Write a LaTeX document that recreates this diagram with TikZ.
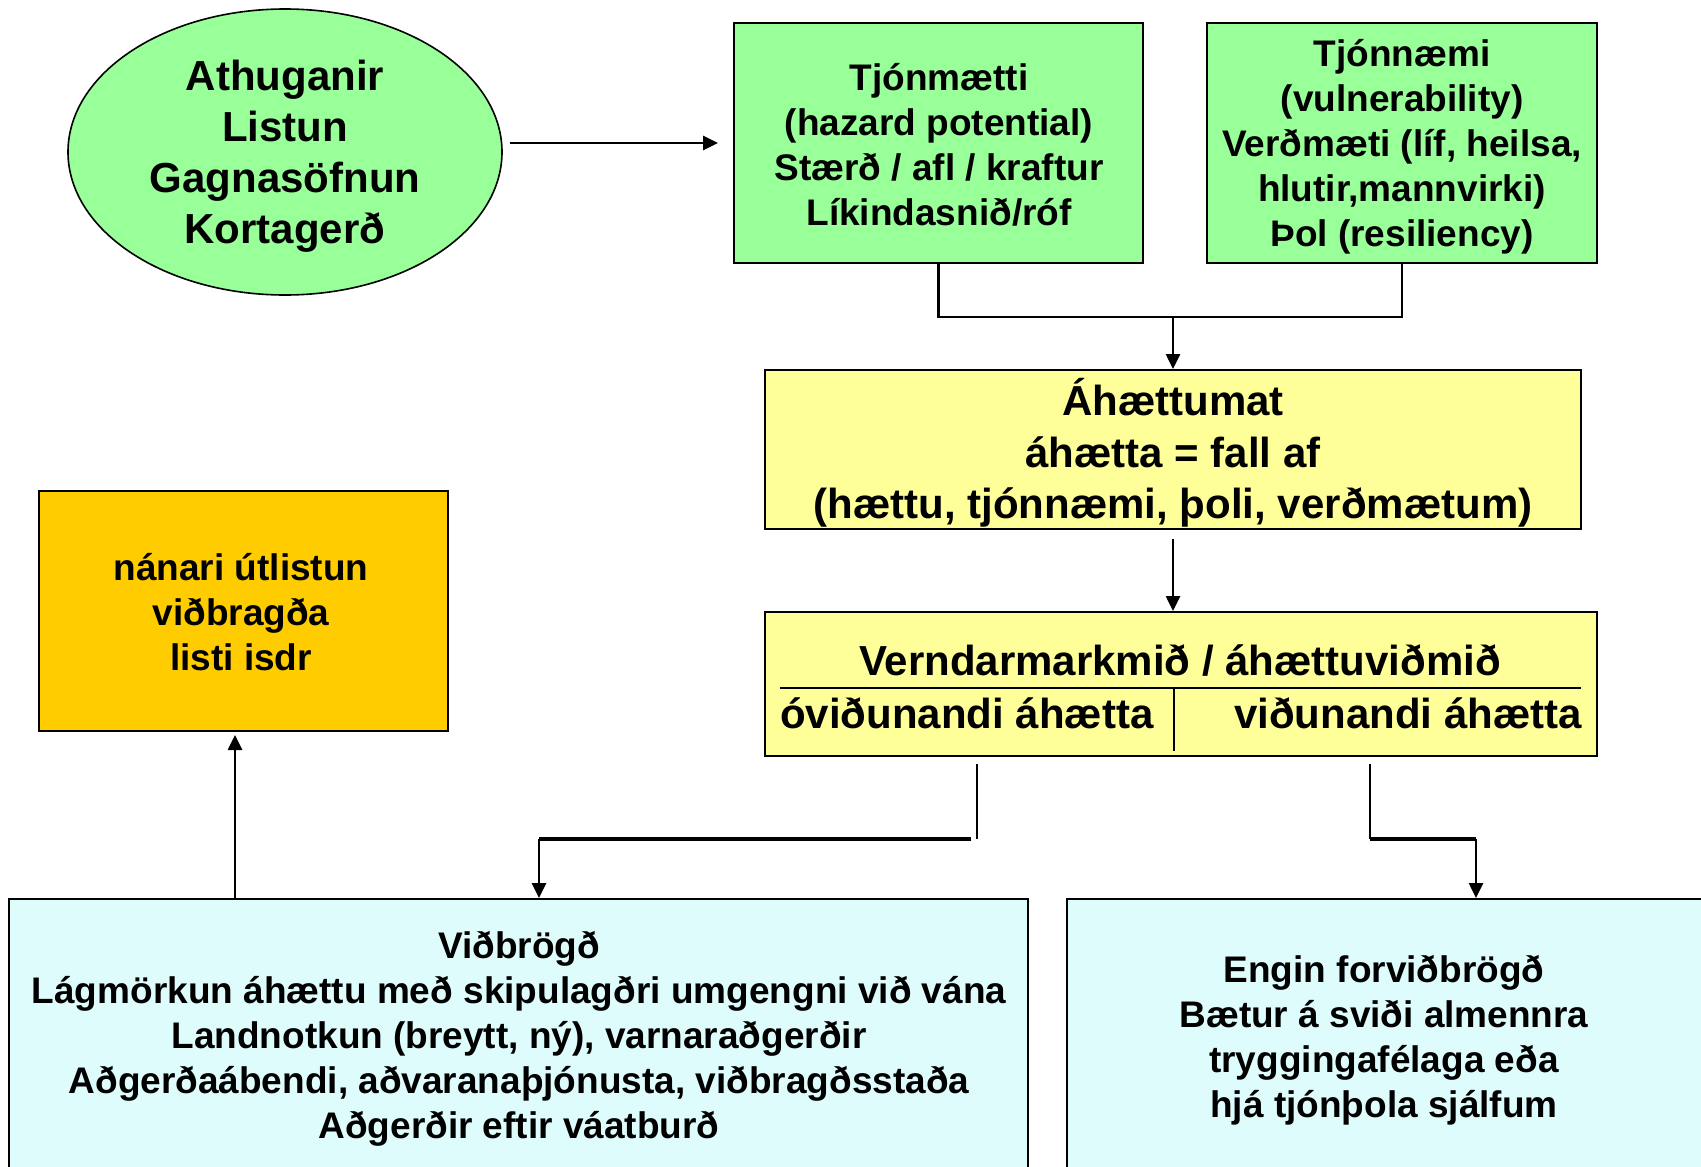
\documentclass[tikz,border=0pt]{standalone}
\usepackage{fontspec}
\setmainfont{Liberation Sans}
\usetikzlibrary{shapes.geometric,arrows.meta,calc}

\definecolor{boxgreen}{HTML}{99FF99}
\definecolor{boxyellow}{HTML}{FFFF99}
\definecolor{boxorange}{HTML}{FFCC00}
\definecolor{boxcyan}{HTML}{DFFCFC}

\begin{document}
\begin{tikzpicture}[x=1pt,y=-1pt,
  every node/.style={font=\bfseries, inner sep=0pt, align=center},
  txtA/.style={font=\bfseries\fontsize{42}{51}\selectfont},
  txtB/.style={font=\bfseries\fontsize{37}{45}\selectfont},
  box/.style={draw=black, line width=2pt, rectangle, inner sep=0pt},
  link/.style={line width=2.6pt},
  arr/.style={line width=2.6pt, -{Triangle[length=15pt,width=14pt]}},
]
\useasboundingbox (0,0) rectangle (1701,1167);

% data gathering
\node[ellipse, draw=black, line width=1.6pt, fill=boxgreen,
      minimum width=434pt, minimum height=286pt] (obs) at (285,152) {};
\node[txtA] (obs-t) at (285,156) {Athuganir\\Listun\\Gagnasöfnun\\Kortagerð};

% hazard and vulnerability
\node[box, fill=boxgreen, minimum width=409pt, minimum height=240pt] (hz) at (938.5,143) {};
\node[txtB] (hz-t) at (939,145)
  {Tjónmætti\\(hazard potential)\\Stærð / afl / kraftur\\Líkindasnið/róf};
\node[box, fill=boxgreen, minimum width=390pt, minimum height=240pt] (vul) at (1402,143) {};
\node[txtB] (vul-t) at (1402,147)
  {Tjónnæmi\\(vulnerability)\\Verðmæti (líf, heilsa,\\hlutir,mannvirki)\\Þol (resiliency)};

% risk assessment
\node[box, fill=boxyellow, minimum width=816pt, minimum height=159pt] (ah) at (1173,449.5) {};
\node[font=\bfseries\fontsize{42}{51.5}\selectfont] (ah-t) at (1173,453)
  {Áhættumat\\áhætta = fall af\\(hættu, tjónnæmi, þoli, verðmætum)};

% acceptance criteria
\node[box, fill=boxyellow, minimum width=832pt, minimum height=144pt] (vm) at (1181,684) {};
\node[txtA] (vmt) at (1180,661) {Verndarmarkmið / áhættuviðmið};
\node[txtA, anchor=west] (vml) at (780,713) {óviðunandi áhætta};
\node[txtA, anchor=east] (vmr) at (1582,713) {viðunandi áhætta};
\draw[line width=2.6pt] (780,688) -- (1581,688);
\draw[line width=1.6pt] (1174,688) -- (1174,751);

% detailed list
\node[box, fill=boxorange, minimum width=409pt, minimum height=240pt] (ext) at (243.5,611) {};
\node[txtB] (ext-t) at (241,612) {nánari útlistun\\viðbragða\\listi isdr};

% responses
\node[box, fill=boxcyan, minimum width=1019pt, minimum height=276pt] (resp) at (518.5,1037) {};
\node[txtB] (resp-t) at (519,1039)
  {Viðbrögð\\Lágmörkun áhættu með skipulagðri umgengni við vána\\Landnotkun (breytt, ný), varnaraðgerðir\\Aðgerðaábendi, aðvaranaþjónusta, viðbragðsstaða\\Aðgerðir eftir váatburð};
\node[box, fill=boxcyan, minimum width=638pt, minimum height=276pt] (none) at (1386,1037) {};
\node[txtB] (none-t) at (1384,1040)
  {Engin forviðbrögð\\Bætur á sviði almennra\\tryggingafélaga eða\\ hjá tjónþola sjálfum};

% connectors
\draw[arr] ([xshift=7pt,yshift=9pt]obs.east) -- ([xshift=-15pt]hz.west);

\draw[link] (hz.south) -- ++(0,53) coordinate (mj) -| (vul.south);
\coordinate (mjc) at (ah.north |- mj);
\draw[arr] (mjc) -- (ah.north);

\draw[arr] ([yshift=-9pt]ah.south) -- (ah.south |- vm.north);

\coordinate (lt) at (977,764);
\coordinate (lb) at (977,839);
\coordinate (lh1) at (971,839);
\coordinate (lh2) at (539,839);
\draw[link] (lt) -- (lb);
\draw[line width=3.6pt] (lh1) -- (lh2);
\draw[arr] (lh2) -- (lh2 |- resp.north);

\coordinate (rt) at (1370,764);
\coordinate (rb) at (1370,839);
\coordinate (rh) at (1476,839);
\draw[link] (rt) -- (rb);
\draw[line width=3.6pt] (rb) -- (rh);
\draw[arr] (rh) -- (rh |- none.north);

\coordinate (up) at (235,0);
\draw[arr] (up |- resp.north) -- ([yshift=-3pt]up |- ext.south);
\end{tikzpicture}
\end{document}
